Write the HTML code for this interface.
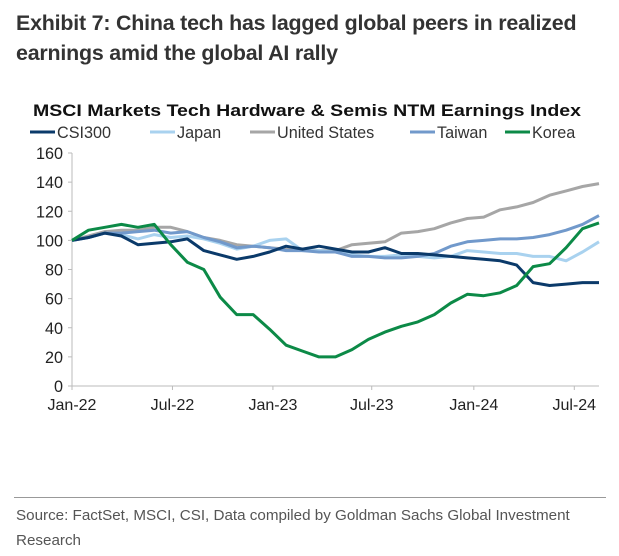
<!DOCTYPE html>
<html><head><meta charset="utf-8"><style>
body{margin:0;width:619px;height:556px;background:#fff;font-family:"Liberation Sans",Arial,sans-serif;overflow:hidden;position:relative}
#t{position:absolute;left:16px;top:8px;font-size:21.4px;font-weight:bold;color:#333;line-height:30px;letter-spacing:-0.2px}
#src{position:absolute;left:16px;top:503px;font-size:15.2px;color:#555;line-height:25px}
#rule{position:absolute;left:14px;top:497px;width:592px;height:1px;background:#999}
</style></head><body>
<div id="t">Exhibit 7: China tech has lagged global peers in realized<br>earnings amid the global AI rally</div>
<svg id="c" width="619" height="556" style="position:absolute;left:0;top:0"></svg>
<div id="rule"></div>
<div id="src">Source: FactSet, MSCI, CSI, Data compiled by Goldman Sachs Global Investment<br>Research</div>
<script>
const xLabels=["Jan-22","Jul-22","Jan-23","Jul-23","Jan-24","Jul-24"];
const xLabelIdx=[0,6.1,12.2,18.2,24.4,30.5];
const yTicks=[0,20,40,60,80,100,120,140,160];
const seriesNames=["CSI300","Japan","United States","Taiwan","Korea"];
const seriesColors=["#0b3a6a","#a9d2ef","#a6a6a6","#7199cb","#0c8a47"];
const csi300=[100,102,105,103,97,98,99,101,93,90,87,89,92,96,94,96,94,92,92,95,91,91,90,89,88,87,86,83,71,69,70,71,71];
const japan=[100,102,105,104,101,104,102,103,101,98,94,96,100,101,93,93,92,90,89,89,90,89,88,89,93,92,91,91,89,89,86,92,99];
const us=[100,103,106,107,107,109,109,106,102,100,97,96,95,94,94,93,93,97,98,99,105,106,108,112,115,116,121,123,126,131,134,137,139];
const taiwan=[100,102,105,105,106,107,105,106,102,99,95,96,95,93,93,92,92,89,89,88,88,89,91,96,99,100,101,101,102,104,107,111,117];
const korea=[100,107,109,111,109,111,97,85,80,61,49,49,39,28,24,20,20,25,32,37,41,44,49,57,63,62,64,69,82,84,95,108,112];
const data=[csi300,japan,us,taiwan,korea];
const svg=document.getElementById('c');const NS="http://www.w3.org/2000/svg";
const x0=72,x1=599,y0=386,y1=153,n=csi300.length;
const X=i=>x0+(x1-x0)*i/(n-1);
const Y=v=>y0-(y0-y1)*v/160;
function mk(t,a,txt){const e=document.createElementNS(NS,t);for(const k in a)e.setAttribute(k,a[k]);if(txt!=null)e.textContent=txt;svg.appendChild(e);return e;}
let e=mk('text',{x:33,y:116,'font-size':17,'font-weight':'bold',fill:'#111',textLength:548,lengthAdjust:'spacingAndGlyphs'},'MSCI Markets Tech Hardware & Semis NTM Earnings Index');


const legX=[30,150,250,410,505];
seriesNames.forEach((s,k)=>{
  const l=mk('line',{x1:legX[k],x2:legX[k]+25,y1:132,y2:132,stroke:seriesColors[k],'stroke-width':3});
  
  
  const t=mk('text',{x:legX[k]+27,y:138,'font-size':16.2,fill:'#333'},s);
  
  
});
e=mk('line',{x1:x0,x2:x0,y1:y1,y2:y0,stroke:'#bbb','stroke-width':1});


e=mk('line',{x1:x0,x2:x1,y1:y0,y2:y0,stroke:'#bbb','stroke-width':1});


yTicks.forEach(v=>{
  const tk=mk('line',{x1:x0-4,x2:x0,y1:Y(v),y2:Y(v),stroke:'#bbb'});
  
  
  const t=mk('text',{x:x0-9,y:Y(v)+6,'text-anchor':'end','font-size':16.2,fill:'#222'},v);
  
  
});
xLabels.forEach((s,k)=>{
  const xx=X(xLabelIdx[k]);
  const tk=mk('line',{x1:xx,x2:xx,y1:y0,y2:y0+4,stroke:'#bbb'});
  
  
  const t=mk('text',{x:xx,y:y0+24,'text-anchor':'middle','font-size':16,fill:'#222'},s);
  
  
});
[2,1,3,0,4].forEach(k=>{
  const p=mk('polyline',{points:data[k].map((v,i)=>X(i).toFixed(1)+','+Y(v).toFixed(1)).join(' '),fill:'none',stroke:seriesColors[k],'stroke-width':3,'stroke-linejoin':'round'});
  
  
});
</script>
</body></html>
